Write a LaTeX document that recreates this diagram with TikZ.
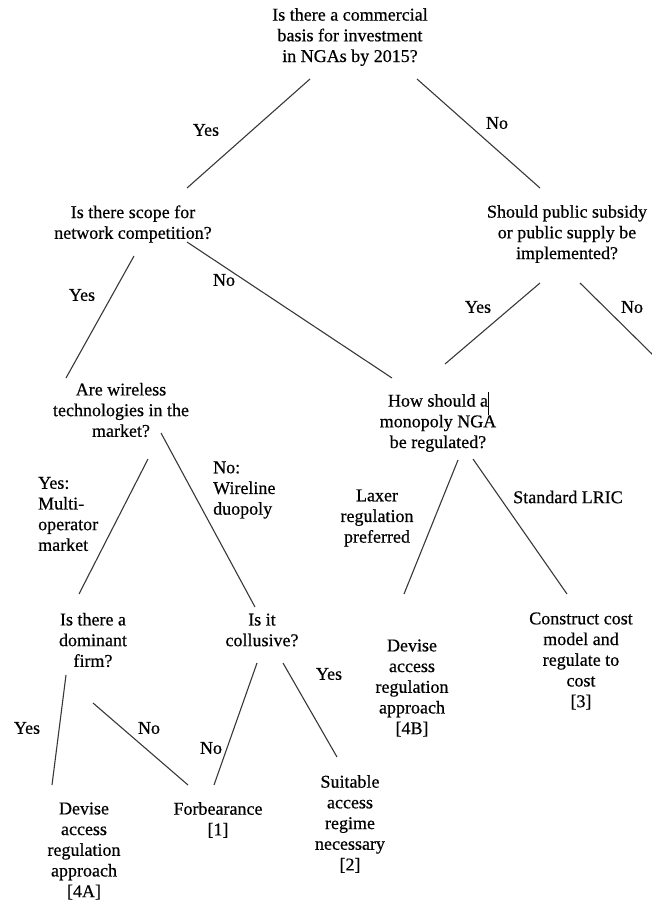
\documentclass[tikz,border=0pt]{standalone}
\usepackage{fontspec}
\setmainfont{Liberation Serif}
\newfontfamily\treefont[FakeBold=0.5]{Liberation Serif}
\begin{document}
\begin{tikzpicture}[x=1pt,y=-1pt,
  txt/.style={align=center,inner sep=0pt,font=\treefont\fontsize{18}{20.7}\selectfont,text=black},
  lbl/.style={inner sep=0pt,font=\treefont\fontsize{18}{20.7}\selectfont,text=black},
  lbll/.style={align=left,anchor=west,inner sep=0pt,font=\treefont\fontsize{18}{20.7}\selectfont,text=black},
  conn/.style={draw=black!78,line width=1.1pt}]
\useasboundingbox (0,0) rectangle (652,902);
% question / outcome nodes
\node[txt] (q1) at (350,37) {Is there a commercial\\basis for investment\\in NGAs by 2015?};
\node[txt] (q2) at (133,224) {Is there scope for\\network competition?};
\node[txt] (q3) at (567,234) {Should public subsidy\\or public supply be\\implemented?};
\node[txt] (q4) at (121,410) {Are wireless\\technologies in the\\market?};
\node[txt] (q5) at (438,423) {How should a\\monopoly NGA\\be regulated?};
\node[txt] (q6) at (93,640) {Is there a\\dominant\\firm?};
\node[txt] (q7) at (262,630) {Is it\\collusive?};
\node[txt] (r4a) at (84,851) {Devise\\access\\regulation\\approach\\{[4A]}};
\node[txt] (r1) at (218,820) {Forbearance\\{[1]}};
\node[txt] (r2) at (350,824) {Suitable\\access\\regime\\necessary\\{[2]}};
\node[txt] (r4b) at (412,688) {Devise\\access\\regulation\\approach\\{[4B]}};
\node[txt] (r3) at (581,661) {Construct cost\\model and\\regulate to\\cost\\{[3]}};
% branch labels
\node[lbl] (l1) at (206,130) {Yes};
\node[lbl] (l2) at (497,123) {No};
\node[lbl] (l3) at (82,295) {Yes};
\node[lbl] (l4) at (224,280) {No};
\node[lbl] (l5) at (478,307) {Yes};
\node[lbl] (l6) at (632,307) {No};
\node[lbll] (l7) at (38,514) {Yes:\\Multi-\\operator\\market};
\node[lbll] (l8) at (213,490) {No:\\Wireline\\duopoly};
\node[txt] (l9) at (377,518) {Laxer\\regulation\\preferred};
\node[lbl] (l10) at (568,497) {Standard LRIC};
\node[lbl] (l11) at (329,674) {Yes};
\node[lbl] (l12) at (27,728) {Yes};
\node[lbl] (l13) at (149,728) {No};
\node[lbl] (l14) at (211,748) {No};
% connector end points
\coordinate (a1) at (310,79);  \coordinate (b1) at (187,188);
\coordinate (a2) at (417,79);  \coordinate (b2) at (540,188);
\coordinate (a3) at (134,256); \coordinate (b3) at (66,378);
\coordinate (a4) at (187,242); \coordinate (b4) at (392,378);
\coordinate (a5) at (540,283); \coordinate (b5) at (445,364);
\coordinate (a6) at (580,283); \coordinate (b6) at (653,355);
\coordinate (a7) at (148,459); \coordinate (b7) at (79,594);
\coordinate (a8) at (161,433); \coordinate (b8) at (255,607);
\coordinate (a9) at (458,460); \coordinate (b9) at (404,594);
\coordinate (a10) at (473,459); \coordinate (b10) at (567,594);
\coordinate (a11) at (66,675); \coordinate (b11) at (52,785);
\coordinate (a12) at (93,703); \coordinate (b12) at (188,785);
\coordinate (a13) at (257,663); \coordinate (b13) at (214,785);
\coordinate (a14) at (283,663); \coordinate (b14) at (337,757);
\foreach \i in {1,...,14} {\draw[conn] (a\i) -- (b\i);}
% text cursor artifact
\coordinate (cur1) at (488,392); \coordinate (cur2) at (488,415);
\draw[black,line width=0.9pt] (cur1) -- (cur2);
\end{tikzpicture}
\end{document}
